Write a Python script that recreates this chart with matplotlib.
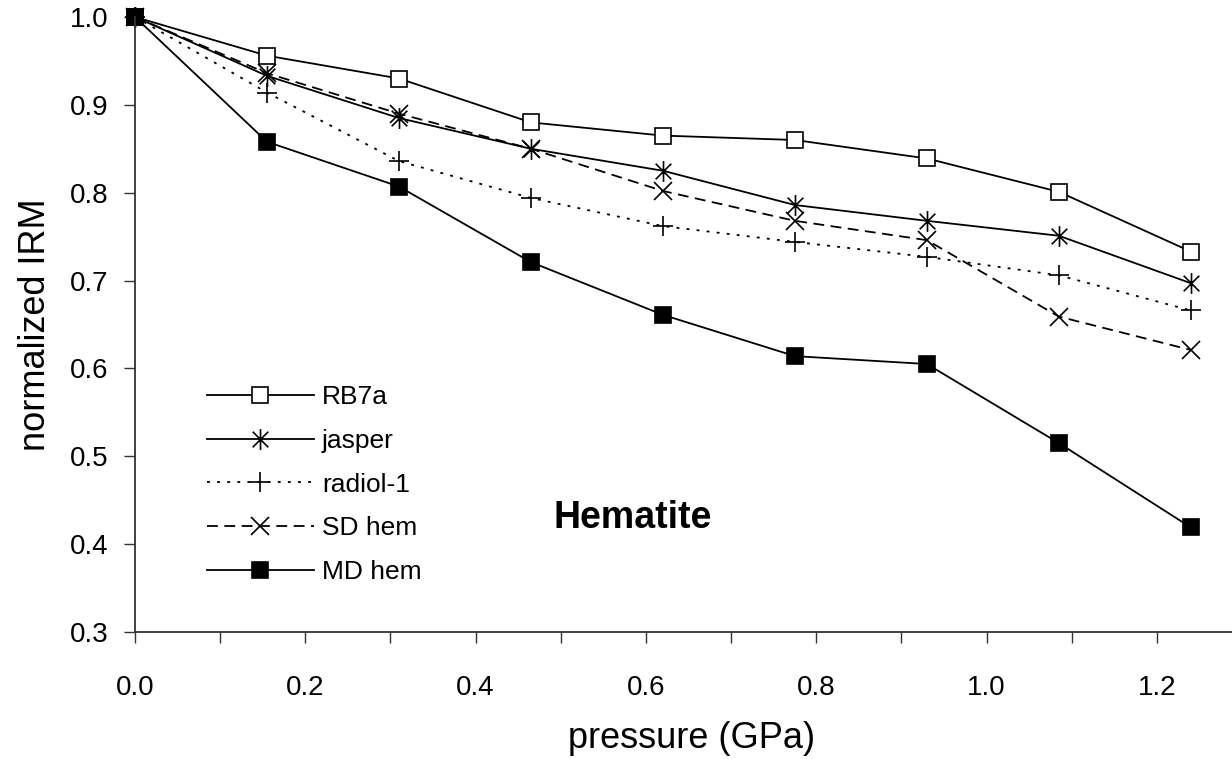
import matplotlib
matplotlib.use("Agg")
import matplotlib.pyplot as plt
from matplotlib.path import Path
from matplotlib.ticker import MultipleLocator, FormatStrFormatter

plt.rcParams['font.family'] = ['Liberation Sans', 'DejaVu Sans']

# ---- data ----
pressure = [0.0, 0.155, 0.31, 0.465, 0.62, 0.775, 0.93, 1.085, 1.24]
rb7a = [1.0, 0.956, 0.930, 0.880, 0.865, 0.860, 0.839, 0.801, 0.733]
jasper = [1.0, 0.933, 0.885, 0.850, 0.825, 0.786, 0.768, 0.751, 0.697]
radiol1 = [1.0, 0.914, 0.836, 0.794, 0.762, 0.744, 0.727, 0.706, 0.666]
sd_hem = [1.0, 0.936, 0.890, 0.850, 0.802, 0.768, 0.746, 0.659, 0.621]
md_hem = [1.0, 0.858, 0.807, 0.721, 0.661, 0.614, 0.605, 0.515, 0.419]
labels = ["RB7a", "jasper", "radiol-1", "SD hem", "MD hem"]

W, H = 1232, 759
fig = plt.figure(figsize=(W / 100, H / 100), dpi=100)
x_px_per_unit = 851.5
left_px, bottom_px, top_px = 135, 632, 17
xmax = 1.3
ax = fig.add_axes([left_px / W, (H - bottom_px) / H,
                   xmax * x_px_per_unit / W, (bottom_px - top_px) / H])

# asterisk marker: vertical bar + X
ast = Path([(0, -1), (0, 1), (-0.75, -0.75), (0.75, 0.75), (-0.75, 0.75), (0.75, -0.75)],
           [Path.MOVETO, Path.LINETO, Path.MOVETO, Path.LINETO, Path.MOVETO, Path.LINETO])

lw = 1.3
common = dict(color='black', lw=lw, clip_on=False, mec='black', mew=1.2)
ax.plot(pressure, rb7a, marker='s', ms=11, mfc='white', ls='-', label=labels[0], **common)
ax.plot(pressure, jasper, marker=ast, ms=15, ls='-', label=labels[1], **common)
ax.plot(pressure, radiol1, marker='+', ms=15, ls=(0, (1.6, 4.0)), label=labels[2], **common)
ax.plot(pressure, sd_hem, marker='x', ms=13, ls=(0, (6.0, 3.6)), label=labels[3], **common)
ax.plot(pressure, md_hem, marker='s', ms=11, mfc='black', ls='-', label=labels[4], **common)

ax.set_xlim(0, xmax)
ax.set_ylim(0.3, 1.0)
for s in ['top', 'right']:
    ax.spines[s].set_visible(False)
for s in ['left', 'bottom']:
    ax.spines[s].set_linewidth(1.3)
    ax.spines[s].set_color('#333333')

ax.xaxis.set_major_locator(MultipleLocator(0.2))
ax.xaxis.set_minor_locator(MultipleLocator(0.1))
ax.xaxis.set_major_formatter(FormatStrFormatter('%.1f'))
ax.yaxis.set_major_locator(MultipleLocator(0.1))
ax.yaxis.set_major_formatter(FormatStrFormatter('%.1f'))
ax.tick_params(axis='x', which='both', direction='out', length=8, width=1.0, color='#333333')
ax.tick_params(axis='x', which='major', labelsize=20, pad=23)
ax.tick_params(axis='y', which='major', direction='out', length=8, width=1.0,
               color='#333333', labelsize=20, pad=11)

ax.set_xlabel("pressure (GPa)", fontsize=26)
ax.set_ylabel("normalized IRM", fontsize=26, labelpad=12)
ax.xaxis.set_label_coords((692 - left_px) / (xmax * x_px_per_unit),
                          -(721 - bottom_px) / (bottom_px - top_px))

ax.text(0.491, 0.430, "Hematite", fontsize=27, fontweight='bold', ha='left', va='center')

leg = ax.legend(loc='upper left', bbox_to_anchor=(207 / W, 1 - 385 / H),
                bbox_transform=fig.transFigure, frameon=False, fontsize=19,
                handlelength=4.05, handletextpad=0.3, labelspacing=0.75,
                borderpad=0, borderaxespad=0)

fig.savefig("out.png", dpi=100)
